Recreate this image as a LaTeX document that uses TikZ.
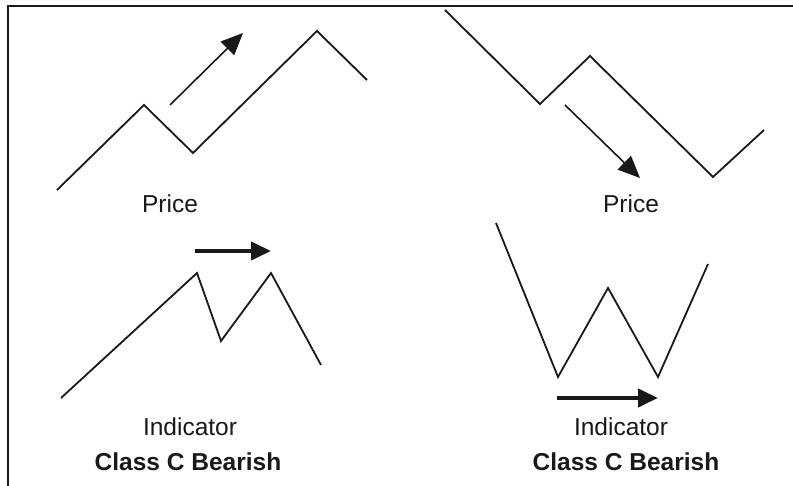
\documentclass[tikz,border=0pt]{standalone}
\usepackage{fontspec}
\setmainfont{Liberation Sans}
\usetikzlibrary{arrows.meta}
\definecolor{ink}{RGB}{25,25,25}

\begin{document}
\begin{tikzpicture}[x=1pt,y=-1pt,
  zig/.style={line width=1.8pt,ink,line join=miter},
  up/.style={-{Triangle[length=22pt,width=19pt]},line width=1.6pt,ink},
  fwd/.style={-{Triangle[length=20pt,width=18pt]},line width=4pt,ink},
  lbl/.style={font=\fontsize{24.5}{29}\selectfont,text=ink,inner sep=0pt},
  cls/.style={lbl,font=\fontsize{24.5}{29}\selectfont\bfseries}]
  \useasboundingbox (0,0) rectangle (793,486);
  \fill[white] (0,0) rectangle (793,486);
  % frame
  \coordinate (f1) at (8,486); \coordinate (f2) at (8,6); \coordinate (f3) at (793,6);
  \draw[line width=2.4pt,ink] (f1) -- (f2) -- (f3);
  % price, left
  \coordinate (p1) at (57,190); \coordinate (p2) at (144,105);
  \coordinate (p3) at (193,153); \coordinate (p4) at (317,31);
  \coordinate (p5) at (367,80);
  \draw[zig] (p1)--(p2)--(p3)--(p4)--(p5);
  \coordinate (pa) at (170,105); \coordinate (pb) at (243,33);
  \draw[up] (pa)--(pb);
  \node[lbl] (price1) at (170,204) {Price};
  % price, right
  \coordinate (q1) at (445,10); \coordinate (q2) at (540,104);
  \coordinate (q3) at (590,56); \coordinate (q4) at (713,177);
  \coordinate (q5) at (764,130);
  \draw[zig] (q1)--(q2)--(q3)--(q4)--(q5);
  \coordinate (qa) at (565,105); \coordinate (qb) at (640,178);
  \draw[up] (qa)--(qb);
  \node[lbl] (price2) at (631,204) {Price};
  % indicator, left
  \coordinate (i1) at (61,398); \coordinate (i2) at (197,273);
  \coordinate (i3) at (221,341); \coordinate (i4) at (271,273);
  \coordinate (i5) at (321,365);
  \draw[zig] (i1)--(i2)--(i3)--(i4)--(i5);
  \coordinate (ia) at (195,251); \coordinate (ib) at (271,251);
  \draw[fwd] (ia)--(ib);
  \node[lbl] (ind1) at (190,427) {Indicator};
  \node[cls] (cls1) at (188,462) {Class C Bearish};
  % indicator, right
  \coordinate (j1) at (496,223); \coordinate (j2) at (558,377);
  \coordinate (j3) at (608,288); \coordinate (j4) at (658,377);
  \coordinate (j5) at (708,264);
  \draw[zig] (j1)--(j2)--(j3)--(j4)--(j5);
  \coordinate (ja) at (557,398); \coordinate (jb) at (658,398);
  \draw[fwd] (ja)--(jb);
  \node[lbl] (ind2) at (621,427) {Indicator};
  \node[cls] (cls2) at (626,462) {Class C Bearish};
\end{tikzpicture}
\end{document}
